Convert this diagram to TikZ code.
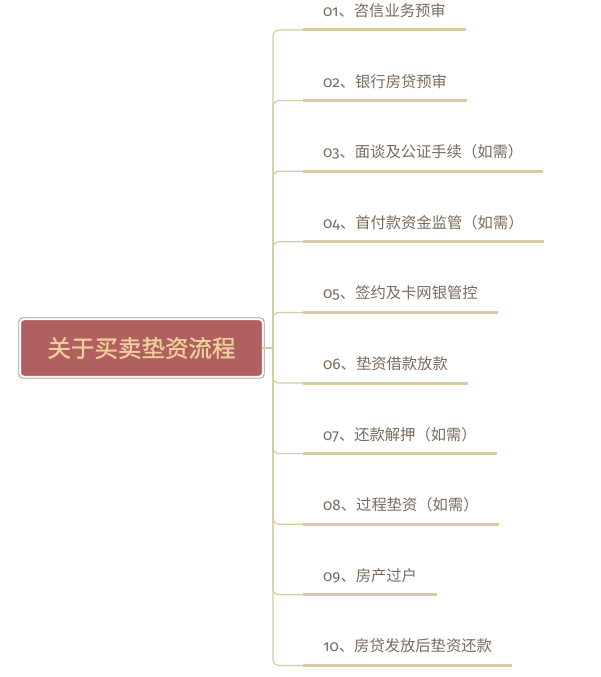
\documentclass[tikz,border=0pt]{standalone}
\usepackage{fontspec}
\setmainfont{Noto Sans CJK SC}
\newfontfamily\numfont[Numbers=OldStyle]{Fira Sans}
\newfontfamily\rootfont[FakeBold=1.2]{Noto Sans CJK SC}
\usetikzlibrary{positioning}
\definecolor{rootred}{HTML}{B0605E}
\definecolor{roottext}{HTML}{F0CE9C}
\definecolor{rootrim}{HTML}{9A9AA2}
\definecolor{linetan}{HTML}{D6CBA3}
\definecolor{leaftext}{HTML}{7A6A5D}
\tikzstyle{root} = [rectangle, fill=rootred, draw=white, rounded corners=3pt, minimum width=241pt, minimum height=56pt, text=roottext, font=\rootfont\fontsize{23.5pt}{25pt}\selectfont]
\tikzstyle{leaf} = [rectangle, inner xsep=20pt, inner ysep=11.3pt, text height=13pt, text depth=2pt, text=leaftext, font=\fontsize{15.3pt}{17pt}\selectfont]
\tikzstyle{under} = [linetan, line width=3pt]
\tikzstyle{link} = [linetan, line width=1.2pt, rounded corners=6pt]

\begin{document}
\begin{tikzpicture}[x=1pt, y=-1pt]
\useasboundingbox (0,0) rectangle (600,677);

% Central box
\node (main) [root] at (141.5,348) {关于买卖垫资流程};
\draw [rootrim, line width=0.8pt, rounded corners=4pt] ([shift={(-2pt,2pt)}]main.north west) rectangle ([shift={(2pt,-2pt)}]main.south east);
\coordinate (jn) at (273,348);

% Branches
\node (b1) [leaf, anchor=south west] at (303,30) {{\numfont 01}、咨信业务预审};
\node (b2) [leaf, below=70.6pt of b1.south west, anchor=south west] {{\numfont 02}、银行房贷预审};
\node (b3) [leaf, below=70.6pt of b2.south west, anchor=south west] {{\numfont 03}、面谈及公证手续（如需）};
\node (b4) [leaf, below=70.6pt of b3.south west, anchor=south west] {{\numfont 04}、首付款资金监管（如需）};
\node (b5) [leaf, below=70.6pt of b4.south west, anchor=south west] {{\numfont 05}、签约及卡网银管控};
\node (b6) [leaf, below=70.6pt of b5.south west, anchor=south west] {{\numfont 06}、垫资借款放款};
\node (b7) [leaf, below=70.6pt of b6.south west, anchor=south west] {{\numfont 07}、还款解押（如需）};
\node (b8) [leaf, below=70.6pt of b7.south west, anchor=south west] {{\numfont 08}、过程垫资（如需）};
\node (b9) [leaf, below=70.6pt of b8.south west, anchor=south west] {{\numfont 09}、房产过户};
\node (b10) [leaf, below=70.6pt of b9.south west, anchor=south west] {{\numfont 10}、房贷发放后垫资还款};

% Connectors
\draw [link] (main.east) -- (jn);
\draw [link] (jn) |- (b1.south west);
\draw [link] (jn) |- (b2.south west);
\draw [link] (jn) |- (b3.south west);
\draw [link] (jn) |- (b4.south west);
\draw [link] (jn) |- (b5.south west);
\draw [link] (jn) |- (b6.south west);
\draw [link] (jn) |- (b7.south west);
\draw [link] (jn) |- (b8.south west);
\draw [link] (jn) |- (b9.south west);
\draw [link] (jn) |- (b10.south west);

% Underlines
\draw [under] (b1.south west) -- (b1.south east);
\draw [under] (b2.south west) -- (b2.south east);
\draw [under] (b3.south west) -- (b3.south east);
\draw [under] (b4.south west) -- (b4.south east);
\draw [under] (b5.south west) -- (b5.south east);
\draw [under] (b6.south west) -- (b6.south east);
\draw [under] (b7.south west) -- (b7.south east);
\draw [under] (b8.south west) -- (b8.south east);
\draw [under] (b9.south west) -- (b9.south east);
\draw [under] (b10.south west) -- (b10.south east);

\end{tikzpicture}
\end{document}
